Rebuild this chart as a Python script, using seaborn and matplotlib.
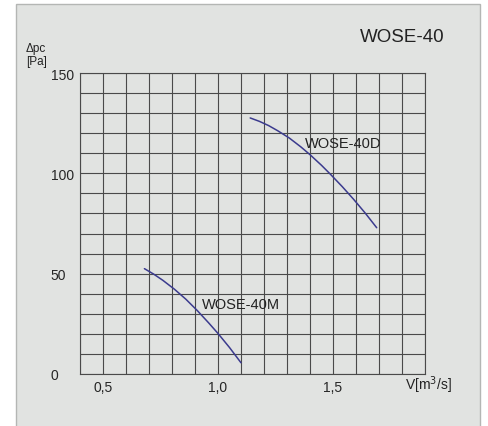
import matplotlib
matplotlib.use('Agg')
import matplotlib.pyplot as plt
import matplotlib.patches as mpatches
import seaborn as sns
import pandas as pd
import numpy as np

# curve data
flow_40d = [1.14, 1.18, 1.22, 1.26, 1.31, 1.36, 1.40, 1.45, 1.49, 1.54, 1.59, 1.64, 1.69]
dp_40d = [127.6, 125.9, 123.8, 121.2, 117.6, 113.2, 109.3, 104.0, 99.4, 93.4, 87.0, 80.2, 72.9]
flow_40m = [0.68, 0.72, 0.76, 0.81, 0.86, 0.91, 0.96, 1.00, 1.05, 1.10]
dp_40m = [52.5, 49.8, 46.7, 42.3, 37.3, 31.6, 25.4, 20.2, 13.2, 5.6]

x_ticks = [0.5, 1.0, 1.5]
x_ticklabels = ['0,5', '1,0', '1,5']
y_ticks = [0, 50, 100, 150]
y_ticklabels = ['0', '50', '100', '150']

sns.set_style('white')
plt.rcParams['font.family'] = ['Liberation Sans', 'DejaVu Sans']

bg = '#e1e3e1'
grid_c = '#4a4a4a'
line_c = '#3b3b8e'

fig = plt.figure(figsize=(4.88, 4.27), dpi=100)
fig.patch.set_facecolor('white')
# grey panel behind the chart
panel = mpatches.Rectangle((16 / 488, -0.01), 464 / 488, 1 - 5 / 427 + 0.01,
                           transform=fig.transFigure, facecolor=bg,
                           edgecolor='#b4b6b4', linewidth=1.0, zorder=-10)
fig.patches.append(panel)

ax = fig.add_axes([80 / 488, 1 - 375 / 427, 345 / 488, 301 / 427])
ax.set_facecolor(bg)

df_d = pd.DataFrame({'V': flow_40d, 'dp': dp_40d})
df_m = pd.DataFrame({'V': flow_40m, 'dp': dp_40m})
sns.lineplot(data=df_d, x='V', y='dp', ax=ax, color=line_c, linewidth=1.1)
sns.lineplot(data=df_m, x='V', y='dp', ax=ax, color=line_c, linewidth=1.1)

ax.set_xlim(0.4, 1.9)
ax.set_ylim(0, 150)
ax.set_xticks(x_ticks)
ax.set_xticklabels(x_ticklabels, fontsize=10)
ax.set_xticks(np.arange(0.4, 1.95, 0.1), minor=True)
ax.set_yticks(y_ticks)
ax.set_yticklabels(y_ticklabels, fontsize=10, ha='left')
ax.set_yticks(np.arange(0, 151, 10), minor=True)
ax.tick_params(axis='both', which='both', length=0)
ax.tick_params(axis='x', pad=4)
ax.tick_params(axis='y', pad=21)
ax.grid(True, which='both', color=grid_c, linewidth=0.8)
ax.set_axisbelow(True)
for s in ax.spines.values():
    s.set_color(grid_c)
    s.set_linewidth(0.8)
ax.set_xlabel('')
ax.set_ylabel('')

ax.text(1.378, 115.2, 'WOSE-40D', fontsize=10.5, color='#222222', va='center', ha='left')
ax.text(0.93, 34.7, 'WOSE-40M', fontsize=10.5, color='#222222', va='center', ha='left')

fig.text(445 / 488, 1 - 37 / 427, 'WOSE-40', fontsize=13.5, color='#222222',
         ha='right', va='center')
fig.text(26 / 488, 1 - 49 / 427, '\u0394pc', fontsize=8.5, color='#222222',
         ha='left', va='center')
fig.text(26 / 488, 1 - 62 / 427, '[Pa]', fontsize=8.5, color='#222222',
         ha='left', va='center')
fig.text(405 / 488, 1 - 385 / 427, 'V[m$^3$/s]', fontsize=10, color='#222222',
         ha='left', va='center')

fig.savefig('out.png', dpi=100, facecolor=fig.get_facecolor())
